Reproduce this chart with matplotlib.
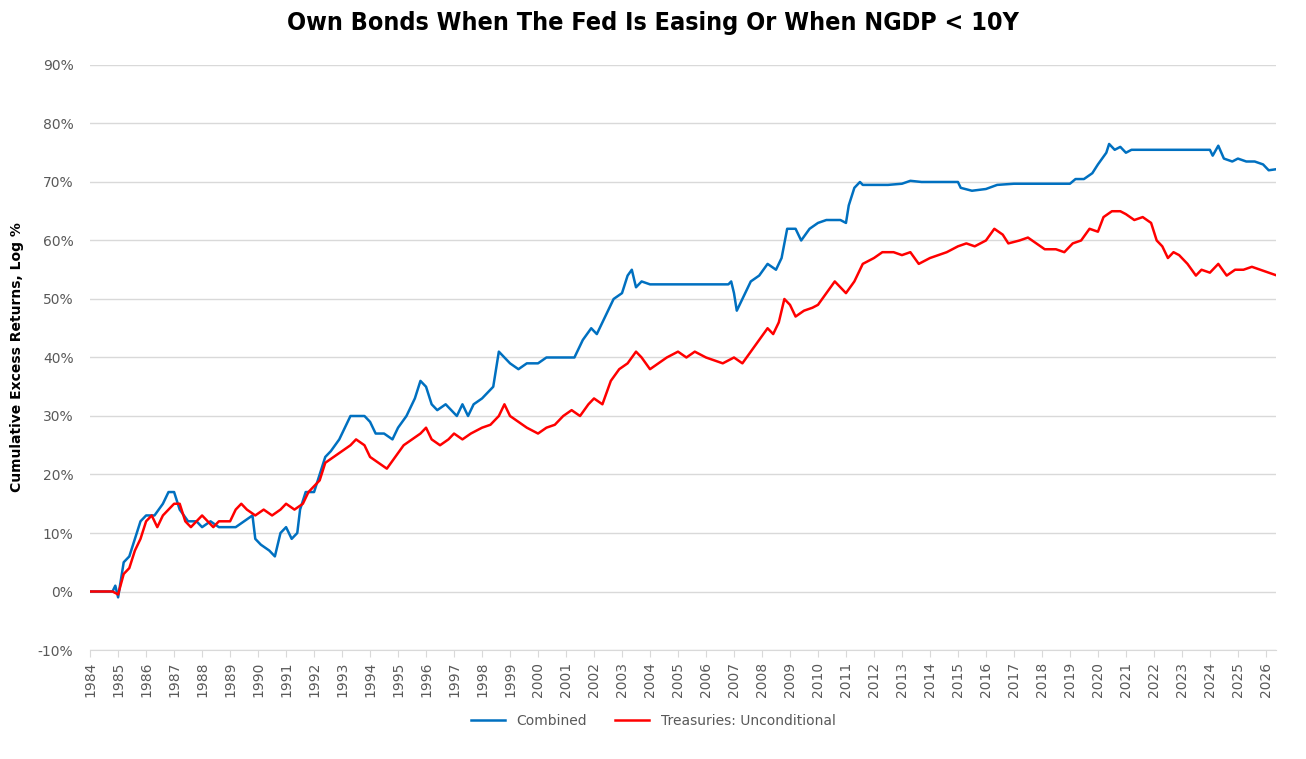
import matplotlib
matplotlib.use("Agg")
import matplotlib.pyplot as plt
from matplotlib.ticker import FuncFormatter

combined_years = [1984.0, 1984.8, 1984.9, 1985.0, 1985.2, 1985.4, 1985.6, 1985.8, 1986.0, 1986.3, 1986.6, 1986.8,
                  1987.0, 1987.2, 1987.5, 1987.8, 1988.0, 1988.3, 1988.6, 1988.9, 1989.2, 1989.5, 1989.8, 1989.9,
                  1990.1, 1990.4, 1990.6, 1990.8, 1991.0, 1991.2, 1991.4, 1991.5, 1991.7, 1992.0, 1992.2, 1992.4,
                  1992.6, 1992.9, 1993.1, 1993.3, 1993.6, 1993.8, 1994.0, 1994.2, 1994.5, 1994.8, 1995.0, 1995.3,
                  1995.6, 1995.8, 1996.0, 1996.2, 1996.4, 1996.7, 1996.9, 1997.1, 1997.3, 1997.5, 1997.7, 1998.0,
                  1998.2, 1998.4, 1998.6, 1998.8, 1999.0, 1999.3, 1999.6, 2000.0, 2000.3, 2000.6, 2001.0, 2001.3,
                  2001.6, 2001.9, 2002.1, 2002.4, 2002.7, 2003.0, 2003.2, 2003.35, 2003.5, 2003.7, 2004.0, 2005.0,
                  2006.0, 2006.8, 2006.9, 2007.0, 2007.1, 2007.3, 2007.6, 2007.9, 2008.2, 2008.5, 2008.7, 2008.9,
                  2009.2, 2009.4, 2009.7, 2010.0, 2010.3, 2010.8, 2011.0, 2011.1, 2011.3, 2011.5, 2011.6, 2012.5,
                  2013.0, 2013.3, 2013.7, 2014.0, 2015.0, 2015.1, 2015.5, 2016.0, 2016.4, 2017.0, 2019.0, 2019.2,
                  2019.5, 2019.8, 2020.0, 2020.3, 2020.4, 2020.6, 2020.8, 2021.0, 2021.2, 2022.0, 2023.0, 2024.0,
                  2024.1, 2024.3, 2024.5, 2024.8, 2025.0, 2025.3, 2025.6, 2025.9, 2026.1, 2026.4]
combined_vals = [0, 0, 1, -1, 5, 6, 9, 12, 13, 13, 15, 17,
                 17, 14, 12, 12, 11, 12, 11, 11, 11, 12, 13, 9,
                 8, 7, 6, 10, 11, 9, 10, 14, 17, 17, 20, 23,
                 24, 26, 28, 30, 30, 30, 29, 27, 27, 26, 28, 30,
                 33, 36, 35, 32, 31, 32, 31, 30, 32, 30, 32, 33,
                 34, 35, 41, 40, 39, 38, 39, 39, 40, 40, 40, 40,
                 43, 45, 44, 47, 50, 51, 54, 55, 52, 53, 52.5, 52.5,
                 52.5, 52.5, 53, 51, 48, 50, 53, 54, 56, 55, 57, 62,
                 62, 60, 62, 63, 63.5, 63.5, 63, 66, 69, 70, 69.5, 69.5,
                 69.7, 70.2, 70, 70, 70, 69, 68.5, 68.8, 69.5, 69.7, 69.7, 70.5,
                 70.5, 71.5, 73, 75, 76.5, 75.5, 76, 75, 75.5, 75.5, 75.5, 75.5,
                 74.5, 76.2, 74, 73.5, 74, 73.5, 73.5, 73, 72, 72.2]

treas_years = [1984.0, 1984.8, 1985.0, 1985.2, 1985.4, 1985.6, 1985.8, 1986.0, 1986.2, 1986.4, 1986.6, 1986.8,
               1987.0, 1987.2, 1987.4, 1987.6, 1987.8, 1988.0, 1988.2, 1988.4, 1988.6, 1989.0, 1989.2, 1989.4,
               1989.6, 1989.9, 1990.2, 1990.5, 1990.8, 1991.0, 1991.3, 1991.6, 1991.8, 1992.0, 1992.2, 1992.4,
               1992.7, 1993.0, 1993.3, 1993.5, 1993.8, 1994.0, 1994.3, 1994.6, 1994.9, 1995.2, 1995.5, 1995.8,
               1996.0, 1996.2, 1996.5, 1996.8, 1997.0, 1997.3, 1997.6, 1998.0, 1998.3, 1998.6, 1998.8, 1999.0,
               1999.3, 1999.6, 2000.0, 2000.3, 2000.6, 2000.9, 2001.2, 2001.5, 2001.8, 2002.0, 2002.3, 2002.6,
               2002.9, 2003.2, 2003.5, 2003.7, 2004.0, 2004.3, 2004.6, 2005.0, 2005.3, 2005.6, 2006.0, 2006.3,
               2006.6, 2007.0, 2007.3, 2007.6, 2007.9, 2008.2, 2008.4, 2008.6, 2008.8, 2009.0, 2009.2, 2009.5,
               2009.8, 2010.0, 2010.3, 2010.6, 2010.8, 2011.0, 2011.3, 2011.6, 2012.0, 2012.3, 2012.7, 2013.0,
               2013.3, 2013.6, 2014.0, 2014.3, 2014.6, 2015.0, 2015.3, 2015.6, 2016.0, 2016.3, 2016.6, 2016.8,
               2017.2, 2017.5, 2017.8, 2018.1, 2018.5, 2018.8, 2019.1, 2019.4, 2019.7, 2020.0, 2020.2, 2020.5,
               2020.8, 2021.0, 2021.3, 2021.6, 2021.9, 2022.1, 2022.3, 2022.5, 2022.7, 2022.9, 2023.2, 2023.5,
               2023.7, 2024.0, 2024.3, 2024.6, 2024.9, 2025.2, 2025.5, 2025.8, 2026.1, 2026.4]
treas_vals = [0, 0, -0.5, 3, 4, 7, 9, 12, 13, 11, 13, 14,
              15, 15, 12, 11, 12, 13, 12, 11, 12, 12, 14, 15,
              14, 13, 14, 13, 14, 15, 14, 15, 17, 18, 19, 22,
              23, 24, 25, 26, 25, 23, 22, 21, 23, 25, 26, 27,
              28, 26, 25, 26, 27, 26, 27, 28, 28.5, 30, 32, 30,
              29, 28, 27, 28, 28.5, 30, 31, 30, 32, 33, 32, 36,
              38, 39, 41, 40, 38, 39, 40, 41, 40, 41, 40, 39.5,
              39, 40, 39, 41, 43, 45, 44, 46, 50, 49, 47, 48,
              48.5, 49, 51, 53, 52, 51, 53, 56, 57, 58, 58, 57.5,
              58, 56, 57, 57.5, 58, 59, 59.5, 59, 60, 62, 61, 59.5,
              60, 60.5, 59.5, 58.5, 58.5, 58, 59.5, 60, 62, 61.5, 64, 65,
              65, 64.5, 63.5, 64, 63, 60, 59, 57, 58, 57.5, 56, 54,
              55, 54.5, 56, 54, 55, 55, 55.5, 55, 54.5, 54]

year_ticks = list(range(1984, 2027))

fig = plt.figure(figsize=(13.06, 7.59), dpi=100)
ax = fig.add_axes([0.069, 0.1436, 0.908, 0.7708])

ax.plot(combined_years, combined_vals, color="#0070C0", lw=1.8, label="Combined")
ax.plot(treas_years, treas_vals, color="#FF0000", lw=1.8, label="Treasuries: Unconditional")

ax.set_xlim(1984, 2026.36)
ax.set_ylim(-10, 90)
ax.set_yticks(range(-10, 91, 10))
ax.yaxis.set_major_formatter(FuncFormatter(lambda v, _: f"{v:.0f}%"))
ax.set_xticks(year_ticks)
ax.set_xticklabels([str(y) for y in year_ticks], rotation=90)
ax.grid(axis="y", color="#d9d9d9", lw=1)
ax.set_axisbelow(True)
for s in ("top", "right", "left"):
    ax.spines[s].set_visible(False)
ax.spines["bottom"].set_color("#d9d9d9")
ax.tick_params(axis="y", length=0, labelsize=10, labelcolor="#595959", pad=12)
ax.tick_params(axis="x", length=5, color="#d9d9d9", labelsize=10, labelcolor="#595959")
ax.set_ylabel("Cumulative Excess Returns, Log %", fontsize=10, fontweight="bold", labelpad=10)

fig.suptitle("Own Bonds When The Fed Is Easing Or When NGDP < 10Y", y=0.985, fontsize=18,
             family=["DejaVu Sans"], fontstretch="condensed", fontweight="bold")
fig.legend(loc="lower center", bbox_to_anchor=(0.5, 0.024), ncol=2, frameon=False,
           fontsize=10, labelcolor="#595959", handlelength=2.5)

fig.savefig("out.png", dpi=100)
